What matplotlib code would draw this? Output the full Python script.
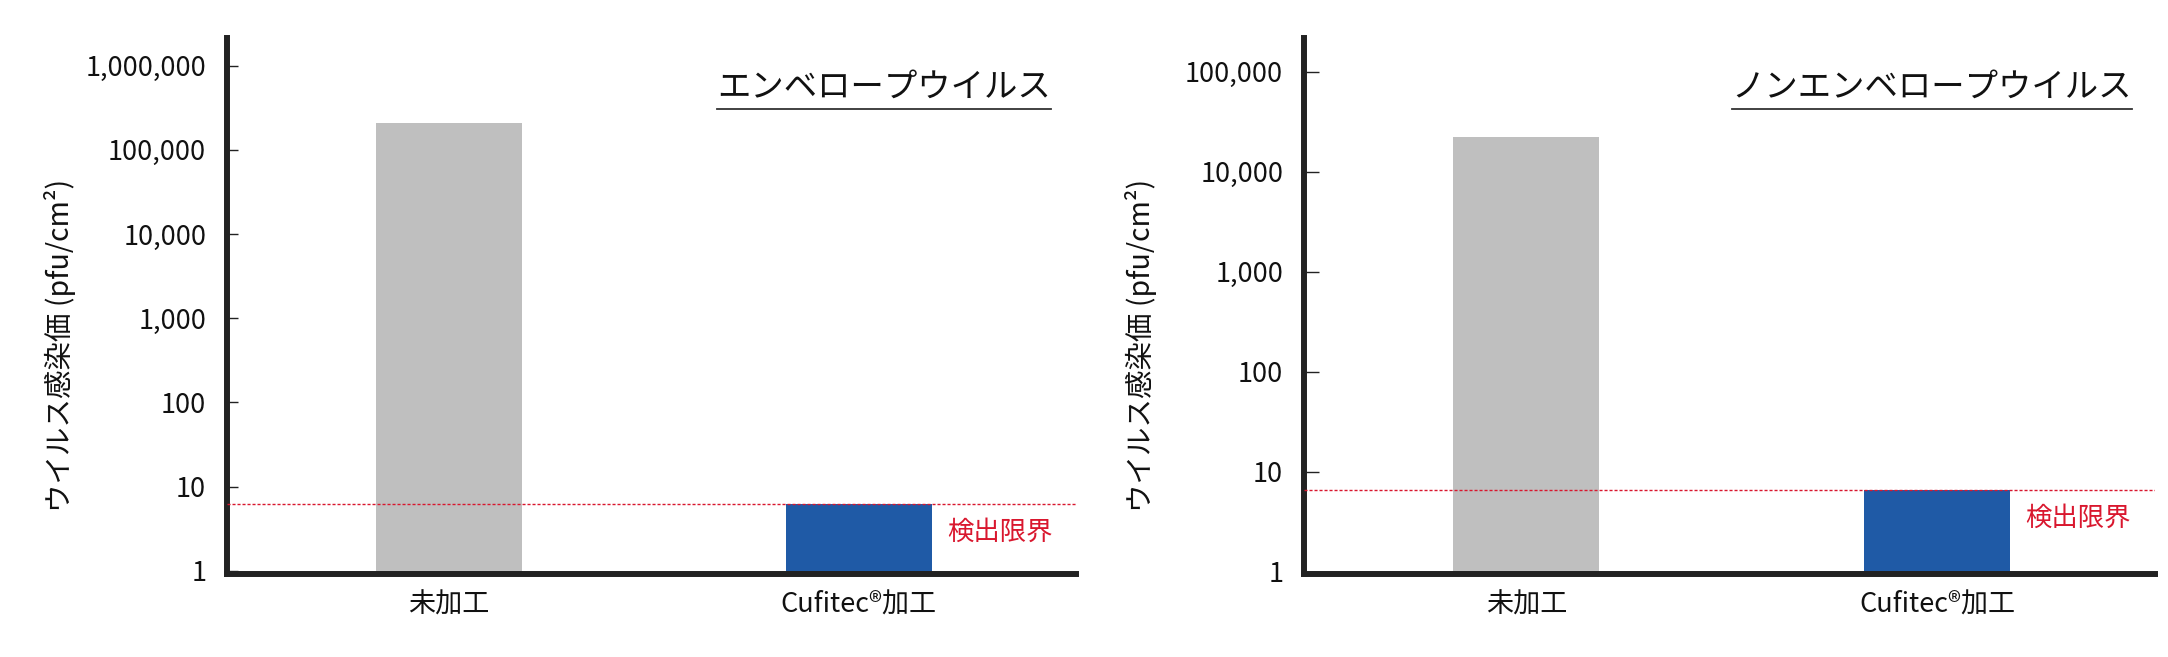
import matplotlib

matplotlib.use("Agg")
import matplotlib.pyplot as plt
from matplotlib.lines import Line2D
from matplotlib.ticker import FixedLocator, FuncFormatter, NullLocator

plt.rcParams["font.family"] = ["Noto Sans CJK JP", "DejaVu Sans"]

# ------------------------------------------------------------------ #
# data
# ------------------------------------------------------------------ #
categories = ["未加工", "Cufitec®加工"]
panel_titles = ["エンベロープウイルス", "ノンエンベロープウイルス"]
envelope_values = [2.1e5, 6.2]
non_envelope_values = [2.2e4, 6.5]
detection_limits = [6.2, 6.5]
yticks_envelope = [1, 10, 100, 1_000, 10_000, 100_000, 1_000_000]
yticks_non_envelope = [1, 10, 100, 1_000, 10_000, 100_000]
ylabel = "ウイルス感染価 (pfu/cm²)"
limit_label = "検出限界"

# ------------------------------------------------------------------ #
# style
# ------------------------------------------------------------------ #
bar_colors = ["#bfbfbf", "#1f5aa6"]
red = "#d9172e"
dark = "#222222"

W, H = 2168, 657
fig = plt.figure(figsize=(W / 100, H / 100), dpi=100)


def _px_axes(left, right, top, bottom):
    return [left / W, 1 - bottom / H, (right - left) / W, (bottom - top) / H]


panels = [
    dict(
        rect=_px_axes(227, 1076, 38.3, 574),
        values=envelope_values,
        limit=detection_limits[0],
        ticks=yticks_envelope,
        ylim=(0.918, 10**6.325),
        title=panel_titles[0],
        tick_len=8,
        label_x=-0.197,
        title_x=0.9705,
    ),
    dict(
        rect=_px_axes(1304, 2155, 38.3, 574),
        values=non_envelope_values,
        limit=detection_limits[1],
        ticks=yticks_non_envelope,
        ylim=(0.948, 10**5.334),
        title=panel_titles[1],
        tick_len=11,
        label_x=-0.192,
        title_x=0.973,
    ),
]

titles = []
for p in panels:
    ax = fig.add_axes(p["rect"])
    x = list(range(len(categories)))
    ax.bar(x, p["values"], width=0.356, color=bar_colors, zorder=2)
    ax.set_yscale("log")
    ax.set_ylim(*p["ylim"])
    ax.set_xlim(-0.541, 1.53)

    # detection limit
    ax.axhline(p["limit"], color=red, lw=1.0, dashes=(2.2, 1.4), zorder=3)
    ax.annotate(
        limit_label,
        xy=(x[1] + 0.356 / 2, p["limit"]),
        xytext=(11, -20),
        textcoords="offset points",
        ha="left",
        va="center",
        color=red,
        fontsize=19,
    )

    # axes styling
    for side in ("top", "right"):
        ax.spines[side].set_visible(False)
    for side in ("left", "bottom"):
        ax.spines[side].set_linewidth(4.3)
        ax.spines[side].set_color(dark)
    ax.yaxis.set_major_locator(FixedLocator(p["ticks"]))
    ax.yaxis.set_minor_locator(NullLocator())
    ax.yaxis.set_major_formatter(FuncFormatter(lambda v, _: f"{v:,.0f}"))
    ax.tick_params(axis="y", direction="in", length=p["tick_len"], width=1.0, color=dark, pad=15, labelsize=19.5, labelcolor="#111111")
    ax.set_xticks(x)
    ax.set_xticklabels(categories)
    ax.tick_params(axis="x", length=0, pad=13, labelsize=19.5, labelcolor="#111111")

    ax.set_ylabel(ylabel, fontsize=20.5, color="#111111", va="center", ha="center")
    ax.yaxis.set_label_coords(p["label_x"], 0.426)

    t = ax.text(p["title_x"], 0.909, p["title"], transform=ax.transAxes, ha="right", va="center", fontsize=24, color="#111111")
    titles.append(t)

# underline the panel titles
fig.canvas.draw()
renderer = fig.canvas.get_renderer()
for t in titles:
    bb = t.get_window_extent(renderer)
    y_line = bb.y0 - 4
    fig.add_artist(
        Line2D(
            [bb.x0 / W, bb.x1 / W],
            [y_line / H, y_line / H],
            transform=fig.transFigure,
            color="#333333",
            lw=1.3,
        )
    )

fig.savefig("out.png", dpi=100)
plt.close(fig)
